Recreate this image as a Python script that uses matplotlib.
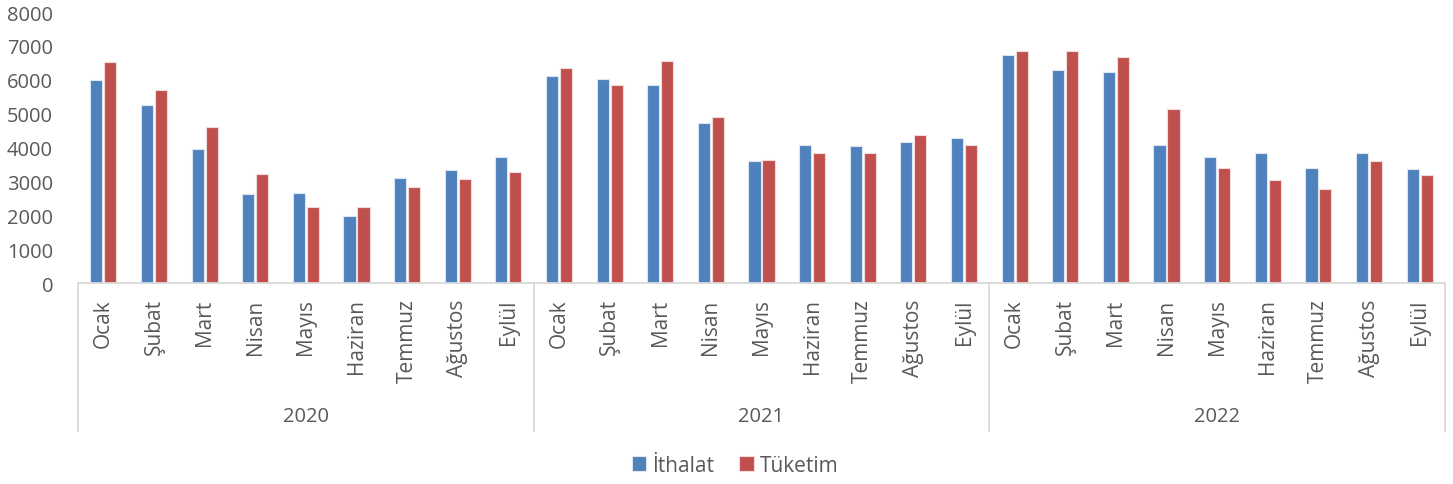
import matplotlib.pyplot as plt
import numpy as np

# Données
years = ["2020", "2021", "2022"]
months = ["Ocak", "Şubat", "Mart", "Nisan", "Mayıs", "Haziran", "Temmuz", "Ağustos", "Eylül"]
ithalat = [6000, 5270, 3950, 2620, 2660, 1980, 3100, 3350, 3730,
           6110, 6020, 5850, 4730, 3590, 4070, 4050, 4170, 4280,
           6720, 6290, 6240, 4070, 3720, 3830, 3390, 3850, 3380]
tuketim = [6540, 5710, 4600, 3220, 2250, 2250, 2830, 3070, 3290,
           6360, 5850, 6570, 4900, 3640, 3840, 3840, 4370, 4070,
           6860, 6850, 6680, 5140, 3410, 3040, 2770, 3590, 3180]

blue = "#4F81BD"
red = "#C0504D"
txt = "#595959"
grid_col = "#D9D9D9"

plt.rcParams['font.family'] = ['Open Sans', 'DejaVu Sans']

fig = plt.figure(figsize=(14.53, 4.85), dpi=100)
ax = fig.add_axes([0.0537, 0.4144, 0.9408, 0.5586])

n = len(ithalat)
x = np.arange(n)
w = 0.24
ax.bar(x - 0.138, ithalat, w, color=blue, edgecolor="#DCE6F2", linewidth=0.8, label="İthalat")
ax.bar(x + 0.138, tuketim, w, color=red, edgecolor="#F2DCDB", linewidth=0.8, label="Tüketim")

ax.set_xlim(-0.5, n - 0.5)
ax.set_ylim(0, 8000)
ax.set_yticks(np.arange(0, 8001, 1000))
ax.tick_params(axis='y', length=0, labelsize=14.5, colors=txt, pad=18)

ax.set_xticks(x)
ax.set_xticklabels(months * len(years), rotation=90, fontsize=15, color=txt)
ax.tick_params(axis='x', length=0, pad=11)

for s in ["top", "right", "left"]:
    ax.spines[s].set_visible(False)
ax.spines["bottom"].set_color(grid_col)
ax.spines["bottom"].set_linewidth(1.3)

# Séparateurs et années
trans = ax.get_xaxis_transform()
for k in range(len(years) + 1):
    xs = k * len(months) - 0.5
    ax.plot([xs, xs], [0, -0.546], color=grid_col, lw=1.3, transform=trans, clip_on=False)
for k, yr in enumerate(years):
    xc = k * len(months) + (len(months) - 1) / 2
    ax.text(xc, -0.49, yr, transform=trans, ha="center", va="center", fontsize=14.5, color=txt)

fig.legend(loc="center", bbox_to_anchor=(0.506, 0.039), ncol=2, frameon=False,
           fontsize=15, labelcolor=txt, handlelength=0.7, handleheight=0.7,
           handletextpad=0.3, columnspacing=1.2)

fig.savefig("out.png", dpi=100)
